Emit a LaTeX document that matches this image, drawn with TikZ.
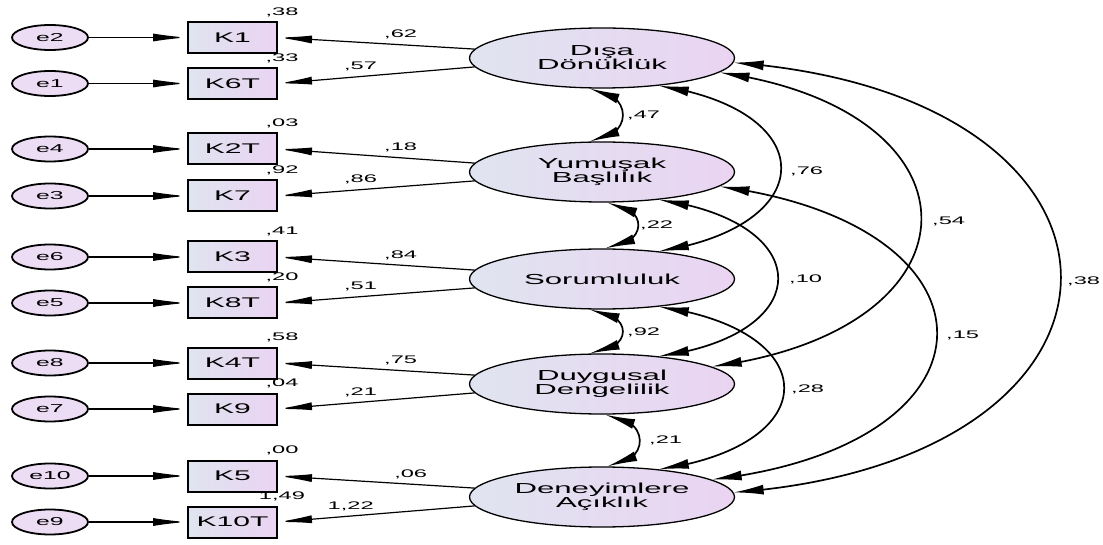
\documentclass[tikz,border=0pt]{standalone}
\usepackage{fontspec}
\setmainfont{Liberation Sans}[FakeStretch=2.15]
\usetikzlibrary{arrows.meta,shapes.geometric,bending}
\definecolor{lavL}{RGB}{224,228,240}
\definecolor{lavR}{RGB}{234,212,242}
\definecolor{errF}{RGB}{236,220,244}
\tikzset{
 lat/.style={ellipse, draw, line width=1.3pt, minimum width=265pt, minimum height=60pt, inner sep=0pt, left color=lavL, right color=lavR, align=center, font=\fontsize{14.5}{14}\selectfont},
 obs/.style={rectangle, draw, line width=2pt, minimum width=89pt, minimum height=31pt, inner sep=0pt, left color=lavL, right color=lavR, font=\fontsize{14}{14}\selectfont},
 err/.style={ellipse, draw, line width=1.8pt, minimum width=76pt, minimum height=25pt, inner sep=0pt, fill=errF, font=\fontsize{11.5}{11}\selectfont},
 num/.style={font=\fontsize{11}{11}\selectfont, inner sep=0pt},
 arr/.style={line width=1.2pt, -{Latex[length=34pt,width=8pt]}},
 cor/.style={line width=1.7pt, {Latex[length=30pt,width=10pt]}-{Latex[length=30pt,width=10pt]}},
 ld/.style={num, above=5pt},
}
\begin{document}
\begin{tikzpicture}[x=1pt,y=-1pt]
\useasboundingbox (0,0) rectangle (1103,545);
\fill[white] (0,0) rectangle (1103,545);
% latent
\node[lat] (D)  at (602,58)  {Dışa\\Dönüklük};
\node[lat] (Y)  at (602,172) {Yumuşak\\Başlılık};
\node[lat] (S)  at (602,279) {Sorumluluk};
\node[lat] (Du) at (602,384) {Duygusal\\Dengelilik};
\node[lat] (De) at (602,497) {Deneyimlere\\Açıklık};
% observed + errors
\foreach \k/\e/\r/\q in {K1/e2/37.5/{,38}, K6T/e1/83.5/{,33}, K2T/e4/149/{,03}, K7/e3/196/{,92}, K3/e6/257/{,41}, K8T/e5/303/{,20}, K4T/e8/363/{,58}, K9/e7/409/{,04}, K5/e10/476/{,00}, K10T/e9/522/{1,49}}{
  \node[obs] (\k) at (232.5,\r) {\k};
  \node[err] (\e) at (50,\r) {\e};
  \node[num] (r\k) at (282,\r-25.5) {\q};
  \draw[arr] (\e) -- (\k);
}
% loadings
\draw[arr] (D.176) -- node[ld,pos=0.376] (l1) {,62} (K1.east);
\draw[arr] (D.184) -- node[ld,pos=0.58] (l2) {,57} (K6T.east);
\draw[arr] (Y.176) -- node[ld,pos=0.376] (l3) {,18} (K2T.east);
\draw[arr] (Y.184) -- node[ld,pos=0.58] (l4) {,86} (K7.east);
\draw[arr] (S.176) -- node[ld,pos=0.376] (l5) {,84} (K3.east);
\draw[arr] (S.184) -- node[ld,pos=0.58] (l6) {,51} (K8T.east);
\draw[arr] (Du.176) -- node[ld,pos=0.376] (l7) {,75} (K4T.east);
\draw[arr] (Du.184) -- node[ld,pos=0.58] (l8) {,21} (K9.east);
\draw[arr] (De.176) -- node[ld,pos=0.325] (l9) {,06} (K5.east);
\draw[arr] (De.184) -- node[ld,pos=0.63] (l10) {1,22} (K10T.east);
% adjacent correlations
\draw[cor] (D.-112) .. controls (634,92) and (634,138) .. (Y.112);
\node[num,anchor=west] (c1) at (627,115) {,47};
\draw[cor] (Y.-80) .. controls (649,206) and (649,245) .. (S.84);
\node[num,anchor=west] (c2) at (640,225) {,22};
\draw[cor] (S.-112) .. controls (634,313) and (634,350) .. (Du.112);
\node[num,anchor=west] (c3) at (627,332) {,92};
\draw[cor] (Du.-84) .. controls (651,418) and (651,463) .. (De.80);
\node[num,anchor=west] (c4) at (649,440) {,21};
% long correlations
\draw[cor] (D.-26) .. controls (822,110) and (822,226) .. (S.26);
\node[num,anchor=west] (c5) at (790,171) {,76};
\draw[cor] (D.-7) .. controls (990,110) and (990,330) .. (Du.9);
\node[num,anchor=west] (c6) at (932,221) {,54};
\draw[cor] (D.-2) .. controls (1170,95) and (1170,460) .. (De.2);
\node[num,anchor=west] (c7) at (1067,281) {,38};
\draw[cor] (Y.-26) .. controls (818,222) and (818,335) .. (Du.26);
\node[num,anchor=west] (c8) at (789,279) {,10};
\draw[cor] (Y.-7) .. controls (1011,225) and (1011,445) .. (De.9);
\node[num,anchor=west] (c9) at (946,335) {,15};
\draw[cor] (S.-26) .. controls (826,330) and (826,446) .. (De.26);
\node[num,anchor=west] (c10) at (791,389) {,28};
\end{tikzpicture}
\end{document}
